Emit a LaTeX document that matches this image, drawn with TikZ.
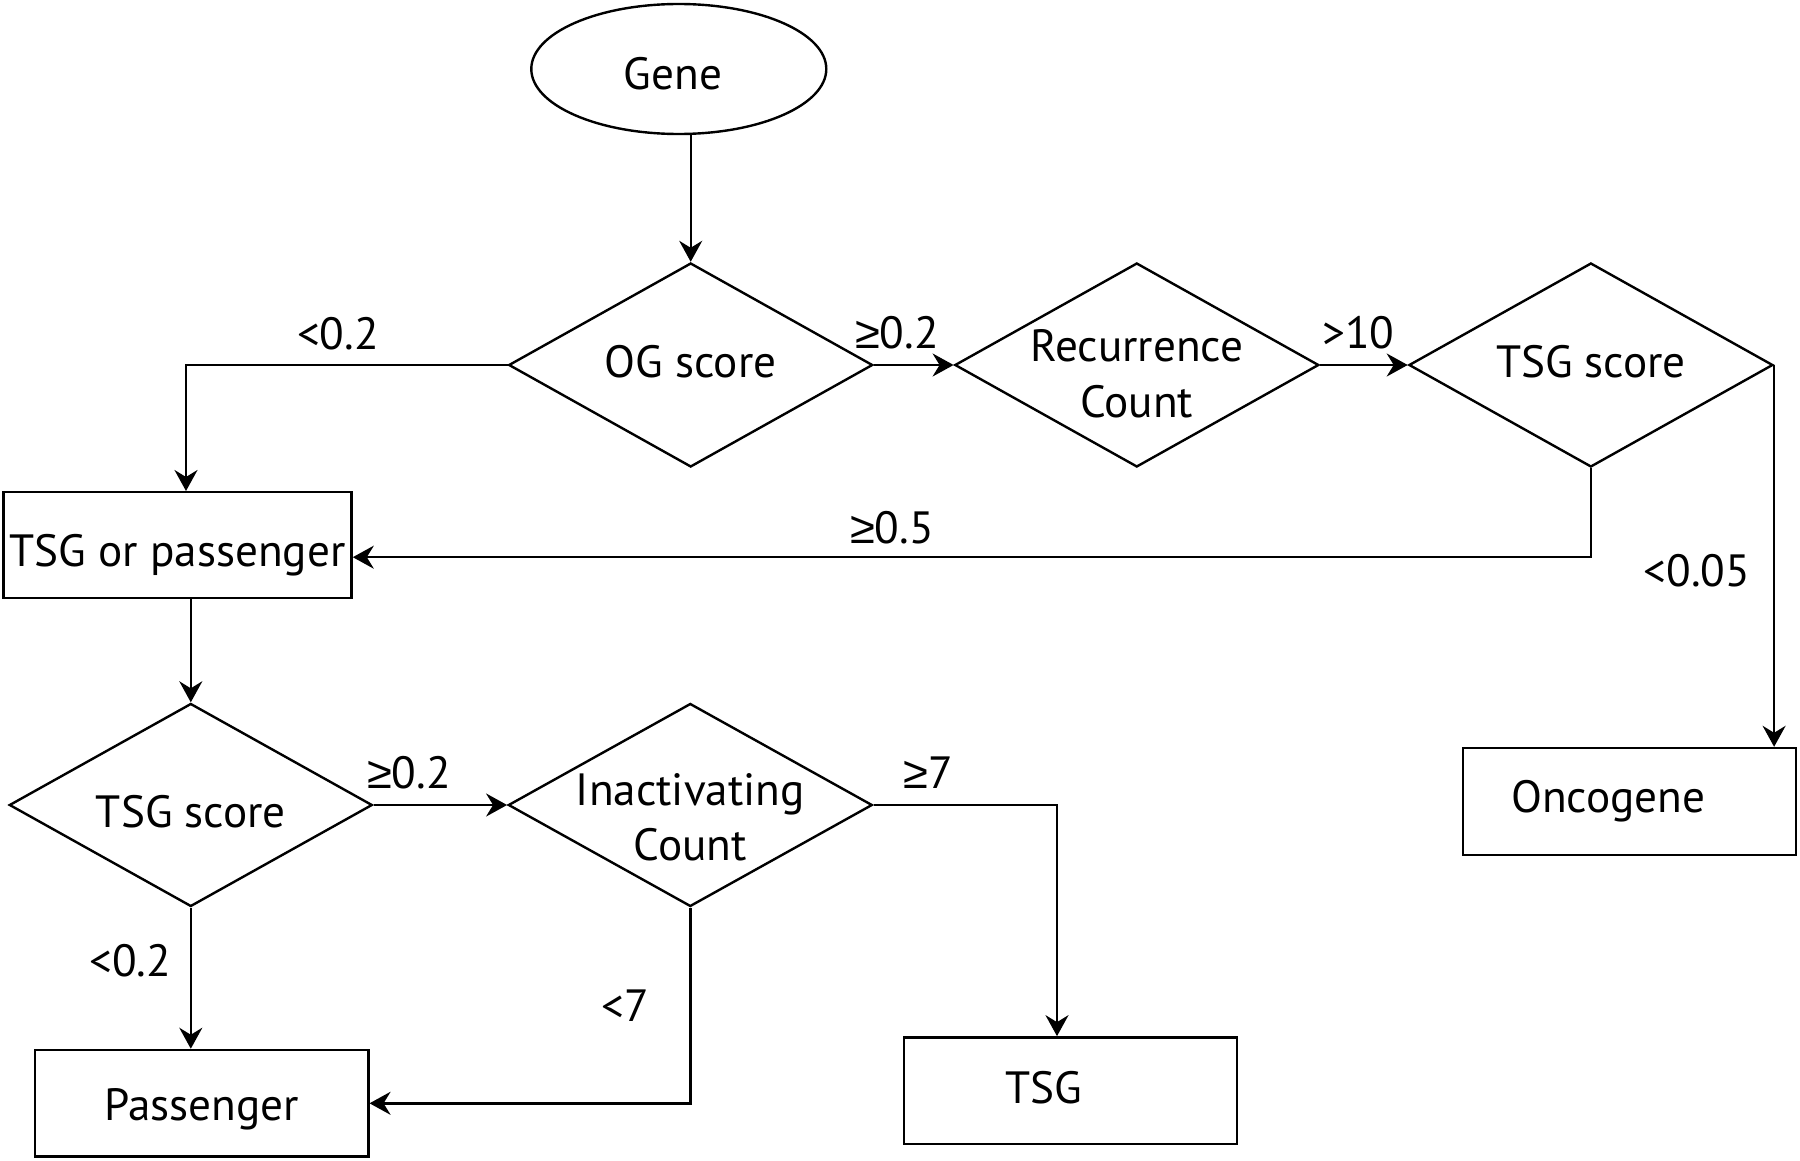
\documentclass[tikz,border=0pt]{standalone}
\usepackage{fontspec}
\setmainfont{PT Sans}
\newfontfamily\symfont{Liberation Sans}
\newcommand{\atleast}{{\symfont ≥}}
\newcommand{\twoline}[2]{\begin{tabular}[t]{@{}c@{}}#1\\#2\end{tabular}}
\usetikzlibrary{shapes.geometric, arrows.meta, positioning}

\begin{document}
\begin{tikzpicture}[x=1pt, y=-1pt, line width=1.2pt,
	every node/.style={font=\fontsize{22.6}{27.9}\selectfont},
	decision/.style={draw, diamond, minimum width=182pt, minimum height=102pt, inner sep=-14pt, shape aspect=1.8, text depth=0pt},
	result/.style={draw, rectangle, minimum width=166.65pt, minimum height=53.35pt, inner sep=0pt, text depth=0pt},
	start/.style={draw, ellipse, minimum width=147.5pt, minimum height=65pt, inner sep=0pt, text depth=0pt},
	arr/.style={-{Stealth[length=10.5pt, width=11.5pt, inset=3.5pt]}},
	cond/.style={inner sep=0pt, anchor=base}]
\useasboundingbox (0,0) rectangle (900,580.5);

	\node[start, text height=21pt] (gene) at (339.4,34.5) {Gene\hspace*{6pt}};
	\node[decision, text height=12.3pt] (og) at (345.35,182.5) {OG score};
	\node[decision, text height=0pt, text depth=3.4pt, right=39.85pt of og] (rec) {\twoline{Recurrence}{Count}};
	\node[decision, text height=12.7pt, right=43.85pt of rec] (tsgA) {TSG score};
	\node[result, minimum width=174pt, minimum height=53pt, text height=21.5pt] (tsgpass) at (88.8,272.6) {TSG or passenger};
	\node[result, minimum height=53.5pt, text height=11pt] (onco) at (814.8,400.75) {Oncogene\hspace*{21.2pt}};
	\node[decision, minimum width=181.5pt, minimum height=101.5pt, text height=22.3pt] (tsgB) at (95.4,402.5) {TSG score};
	\node[decision, minimum height=101.5pt, text height=0pt, right=66.8pt of tsgB] (inact) {\twoline{Inactivating}{Count}};
	\node[result, text height=17.4pt] (passenger) at (100.85,551.65) {Passenger};
	\node[result, text height=12.6pt] (tsg) at (535.25,545.35) {TSG\hspace*{26.8pt}};

	\node[cond] (ltA) at (169,174.5) {<0.2};
	\node[cond] (geA) at (448.5,174.15) {\atleast0.2};
	\node[cond] (gtten) at (679.2,174.1) {>10};
	\node[cond] (gefive) at (446,271.9) {\atleast0.5};
	\node[cond] (ltfive) at (848.4,293.1) {<0.05};
	\node[cond] (geB) at (204.5,394.15) {\atleast0.2};
	\node[cond] (ltB) at (65.15,488.35) {<0.2};
	\node[cond] (geseven) at (464.25,394.15) {\atleast7};
	\node[cond] (ltseven) at (312.75,510.85) {<7};

	\draw[arr] (og.north |- gene.south) -- (og.north);
	\draw[arr] (og.west) -| ([xshift=4.2pt]tsgpass.north);
	\draw[arr] (og.east) -- (rec.west);
	\draw[arr] (rec.east) -- (tsgA.west);
	\draw[arr] (tsgA.south) |- ([yshift=-6pt]tsgpass.east);
	\draw[arr] (tsgA.east) -- (tsgA.east |- onco.north);
	\draw[arr] (tsgB.north |- tsgpass.south) -- (tsgB.north);
	\draw[arr] (tsgB.east) -- (inact.west);
	\draw[arr] (tsgB.south) -- (tsgB.south |- passenger.north);
	\draw[arr] (inact.east) -| ([xshift=-6.75pt]tsg.north);
	\draw[arr] (inact.south) |- (passenger.east);
\end{tikzpicture}
\end{document}
